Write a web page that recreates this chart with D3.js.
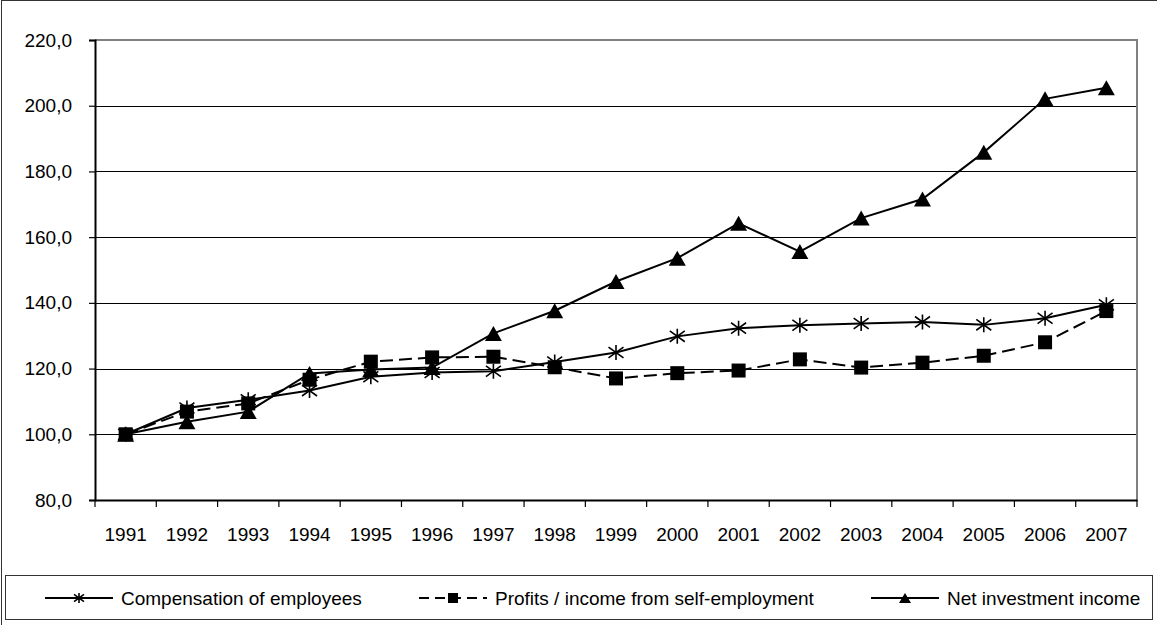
<!DOCTYPE html>
<html><head><meta charset="utf-8">
<script src="https://cdn.jsdelivr.net/npm/d3@7"></script>
<style>
html,body{margin:0;padding:0;background:#fff;}
svg{display:block;font-family:"Liberation Sans",Arial,sans-serif;}
</style></head>
<body>
<svg id="chart" width="1157" height="625"></svg>
<script>
const years = ["1991","1992","1993","1994","1995","1996","1997","1998","1999","2000","2001","2002","2003","2004","2005","2006","2007"];
const compensation = [100, 108.0, 110.5, 113.3, 117.5, 118.8, 119.2, 122.0, 124.9, 129.8, 132.3, 133.2, 133.7, 134.2, 133.3, 135.3, 139.4];
const profits = [100, 106.9, 109.4, 116.6, 122.1, 123.4, 123.6, 120.4, 117.0, 118.6, 119.4, 122.8, 120.3, 121.8, 123.9, 128.0, 137.5];
const netInvestment = [100, 103.8, 106.9, 118.5, 119.7, 120.3, 130.7, 137.6, 146.5, 153.6, 164.2, 155.6, 165.8, 171.6, 185.8, 202.1, 205.5];
const yTicks = [80, 100, 120, 140, 160, 180, 200, 220];
const seriesNames = ["Compensation of employees", "Profits / income from self-employment", "Net investment income"];

const svg = d3.select("#chart");
const L = 95, R = 1137, T = 40, B = 500;
const x = d3.scaleBand().domain(years).range([L, R]);
const y = d3.scaleLinear().domain([80, 220]).range([B, T]);
const fmt = v => d3.format(".1f")(v).replace(".", ",");

// outer frame
svg.append("rect").attr("x", 1.5).attr("y", 0.5).attr("width", 1170).attr("height", 640)
  .attr("fill", "none").attr("stroke", "#333").attr("stroke-width", 1);

// gridlines
svg.append("g").selectAll("line").data(yTicks.filter(d => d > 80 && d < 220)).join("line")
  .attr("x1", L).attr("x2", R).attr("y1", d => Math.round(y(d)) + 0.5).attr("y2", d => Math.round(y(d)) + 0.5)
  .attr("stroke", "#000").attr("stroke-width", 1);

// plot border top/right (gray)
svg.append("path").attr("d", `M${L},${T}H${R}V${B}`).attr("fill", "none").attr("stroke", "#808080").attr("stroke-width", 2);

// y axis
const yAxis = svg.append("g").attr("transform", `translate(${L},0)`)
  .call(d3.axisLeft(y).tickValues(yTicks).tickFormat(fmt).tickSize(6).tickPadding(17));
yAxis.select(".domain").attr("stroke", "#000").attr("stroke-width", 2);
yAxis.selectAll(".tick line").attr("stroke", "#000").attr("stroke-width", 1.2);
yAxis.selectAll("text").attr("font-size", 19).attr("fill", "#000").attr("font-family", "Liberation Sans, Arial, sans-serif");

// x axis
const xAxis = svg.append("g").attr("transform", `translate(0,${B})`)
  .call(d3.axisBottom(x).tickSize(0).tickPadding(28));
xAxis.select(".domain").attr("stroke", "#000").attr("stroke-width", 2);
xAxis.selectAll("text").attr("font-size", 19).attr("fill", "#000").attr("font-family", "Liberation Sans, Arial, sans-serif");
// category boundary ticks
const bounds = years.map(d => x(d)).concat([R]);
svg.append("g").selectAll("line").data(bounds).join("line")
  .attr("x1", d => d).attr("x2", d => d).attr("y1", B).attr("y2", B + 7)
  .attr("stroke", "#000").attr("stroke-width", 1.2);

const cx = d => x(d) + x.bandwidth() / 2;
const line = d3.line().x(d => cx(d.year)).y(d => y(d.v));
const mk = arr => years.map((yr, i) => ({year: yr, v: arr[i]}));

const starPath = s => `M0,${-s}L0,${s}M${-s},${-s*0.72}L${s},${s*0.72}M${-s},${s*0.72}L${s},${-s*0.72}`;
const triPath = (w, h) => `M0,${-h/2}L${w/2},${h/2}L${-w/2},${h/2}Z`;

// Series 1: compensation
const g1 = svg.append("g");
g1.append("path").attr("d", line(mk(compensation))).attr("fill", "none").attr("stroke", "#000").attr("stroke-width", 2);
g1.selectAll("path.m").data(mk(compensation)).join("path").attr("class", "m")
  .attr("transform", d => `translate(${cx(d.year)},${y(d.v)})`)
  .attr("d", starPath(7.5)).attr("stroke", "#000").attr("stroke-width", 1.6).attr("fill", "none");

// Series 2: profits
const g2 = svg.append("g");
g2.append("path").attr("d", line(mk(profits))).attr("fill", "none").attr("stroke", "#000").attr("stroke-width", 2).attr("stroke-dasharray", "13,6");
g2.selectAll("rect").data(mk(profits)).join("rect")
  .attr("x", d => cx(d.year) - 7).attr("y", d => y(d.v) - 7).attr("width", 14).attr("height", 14).attr("fill", "#000");

// Series 3: net investment
const g3 = svg.append("g");
g3.append("path").attr("d", line(mk(netInvestment))).attr("fill", "none").attr("stroke", "#000").attr("stroke-width", 2);
g3.selectAll("path.m").data(mk(netInvestment)).join("path").attr("class", "m")
  .attr("transform", d => `translate(${cx(d.year)},${y(d.v)})`)
  .attr("d", triPath(17, 15)).attr("fill", "#000");

// Legend
svg.append("rect").attr("x", 5.5).attr("y", 575.5).attr("width", 1147).attr("height", 44)
  .attr("fill", "#fff").attr("stroke", "#333").attr("stroke-width", 1);
const legY = 598;
const legItems = [
  {x0: 45, name: seriesNames[0], dash: null, marker: "star"},
  {x0: 419, name: seriesNames[1], dash: "10,6", marker: "square"},
  {x0: 871, name: seriesNames[2], dash: null, marker: "tri"}
];
legItems.forEach(it => {
  const g = svg.append("g");
  g.append("line").attr("x1", it.x0).attr("x2", it.x0 + 68).attr("y1", legY).attr("y2", legY)
    .attr("stroke", "#000").attr("stroke-width", 2).attr("stroke-dasharray", it.dash);
  const mx = it.x0 + 34;
  if (it.marker === "star") {
    g.append("path").attr("transform", `translate(${mx},${legY})`).attr("d", starPath(5)).attr("stroke", "#000").attr("stroke-width", 1.6).attr("fill", "none");
  } else if (it.marker === "square") {
    g.append("rect").attr("x", mx - 5).attr("y", legY - 5).attr("width", 10).attr("height", 10).attr("fill", "#000");
  } else {
    g.append("path").attr("transform", `translate(${mx},${legY})`).attr("d", triPath(12, 10)).attr("fill", "#000");
  }
  g.append("text").attr("x", it.x0 + 76).attr("y", legY).attr("dy", "0.35em")
    .attr("font-size", 19).attr("fill", "#000").text(it.name);
});
</script>
</body></html>
